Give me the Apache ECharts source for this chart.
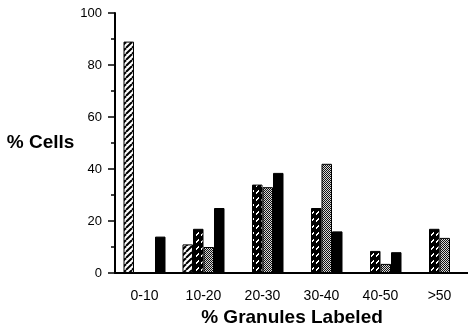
<!DOCTYPE html>
<html>
<head>
<meta charset="utf-8">
<script src="https://cdn.jsdelivr.net/npm/echarts@6/dist/echarts.min.js"></script>
<style>html,body{margin:0;padding:0;background:#fff;}#c{width:468px;height:328px;}</style>
</head>
<body>
<div id="c"></div>
<script>
const categories = ['0-10', '10-20', '20-30', '30-40', '40-50', '>50'];
const lightHatch = [89, 11, null, null, null, null];
const denseHatch = [null, 17, 34, 25, 8.5, 17];
const dotted = [null, 10, 33, 42, 3.5, 13.5];
const solid = [14, 25, 38.5, 16, 8, null];
const yTicks = [0, 20, 40, 60, 80, 100];

function pattern(kind) {
  const c = document.createElement('canvas');
  const ctx = c.getContext('2d');
  if (kind === 'light') {
    const s = 6; c.width = s; c.height = s;
    ctx.fillStyle = '#fff'; ctx.fillRect(0, 0, s, s);
    ctx.strokeStyle = '#000'; ctx.lineWidth = 2;
    for (const x0 of [-s, 0, s]) { ctx.beginPath(); ctx.moveTo(x0, s); ctx.lineTo(x0 + s, 0); ctx.stroke(); }
  } else if (kind === 'dense') {
    c.width = 5; c.height = 7;
    ctx.fillStyle = '#000'; ctx.fillRect(0, 0, 5, 7);
    ctx.fillStyle = '#fff';
    ctx.fillRect(3, 1, 1, 1); ctx.fillRect(2, 2, 2, 1); ctx.fillRect(1, 3, 2, 1); ctx.fillRect(1, 4, 1, 1);
  } else {
    c.width = 2; c.height = 2;
    ctx.fillStyle = '#d8d8d8'; ctx.fillRect(0, 0, 2, 2);
    ctx.fillStyle = '#111'; ctx.fillRect(0, 0, 1, 1); ctx.fillRect(1, 1, 1, 1);
  }
  return { image: c, repeat: 'repeat' };
}

const chart = echarts.init(document.getElementById('c'), null, { renderer: 'canvas' });
const base = { type: 'bar', barWidth: 10.5, barGap: '0%', itemStyle: { borderColor: '#000', borderWidth: 1 } };
chart.setOption({
  animation: false,
  backgroundColor: '#fff',
  grid: { left: 115, top: 13, width: 354, height: 260, containLabel: false, outerBoundsMode: 'none' },
  xAxis: {
    type: 'category', data: categories,
    name: '% Granules Labeled', nameLocation: 'middle', nameGap: 35,
    nameTextStyle: { fontFamily: 'Liberation Sans', fontWeight: 'bold', fontSize: 19, color: '#000' },
    axisLine: { lineStyle: { color: '#000', width: 2 } },
    axisTick: { length: 5, lineStyle: { color: '#000', width: 1.5 } },
    axisLabel: { fontFamily: 'Liberation Sans', fontSize: 14, color: '#000', margin: 16 }
  },
  yAxis: {
    type: 'value', min: 0, max: 100, interval: 20,
    name: '% Cells', nameLocation: 'middle', nameRotate: 0, nameGap: 72,
    nameTextStyle: { fontFamily: 'Liberation Sans', fontWeight: 'bold', fontSize: 19, color: '#000', align: 'center', verticalAlign: 'middle' },
    axisLine: { show: true, lineStyle: { color: '#000', width: 2 } },
    axisTick: { show: true, length: 7, lineStyle: { color: '#000', width: 1.5 } },
    minorTick: { show: true, splitNumber: 2, length: 4, lineStyle: { color: '#000', width: 1.5 } },
    splitLine: { show: false },
    axisLabel: { fontFamily: 'Liberation Sans', fontSize: 13, color: '#000', margin: 13,
      formatter: v => yTicks.includes(v) ? String(v) : '' }
  },
  series: [
    Object.assign({}, base, { name: 'a', data: lightHatch, itemStyle: Object.assign({}, base.itemStyle, { color: pattern('light') }) }),
    Object.assign({}, base, { name: 'b', data: denseHatch, itemStyle: Object.assign({}, base.itemStyle, { color: pattern('dense') }) }),
    Object.assign({}, base, { name: 'c', data: dotted, itemStyle: Object.assign({}, base.itemStyle, { color: pattern('dot') }) }),
    Object.assign({}, base, { name: 'd', data: solid, itemStyle: Object.assign({}, base.itemStyle, { color: '#000' }) })
  ]
});
</script>
</body>
</html>
